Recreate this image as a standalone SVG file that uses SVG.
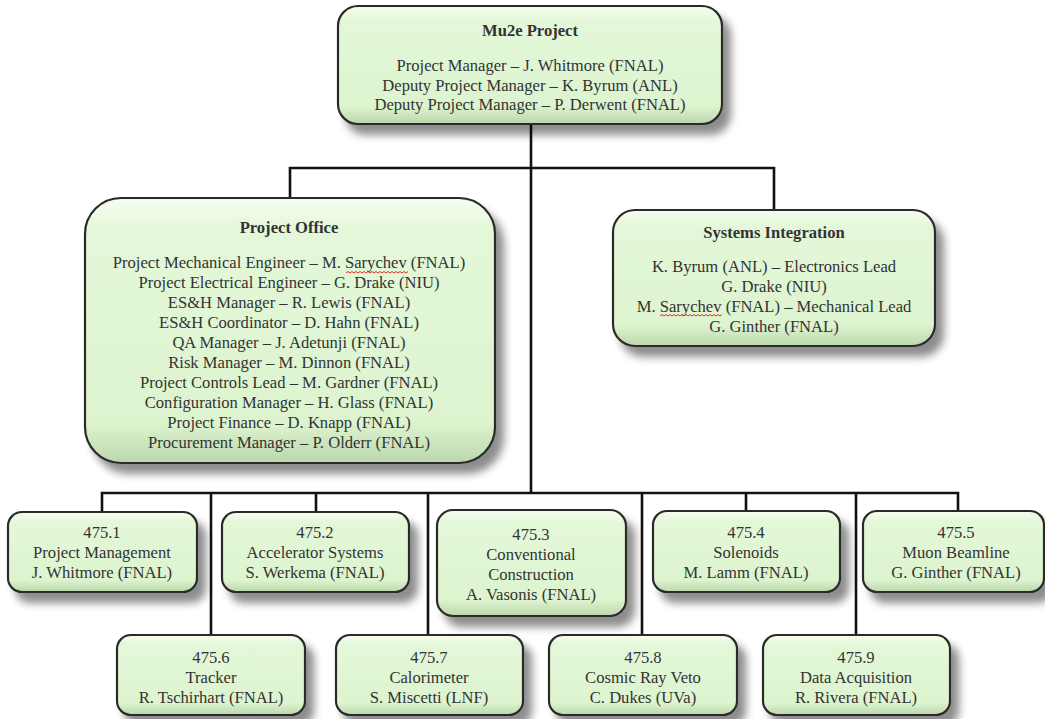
<svg xmlns="http://www.w3.org/2000/svg" width="1045" height="719" viewBox="0 0 1045 719">
  <defs>
    <linearGradient id="fillG" x1="0" y1="0" x2="0" y2="1">
      <stop offset="0" stop-color="#f6fdf0"/>
      <stop offset="0.12" stop-color="#e4f8d9"/>
      <stop offset="0.85" stop-color="#ddf4cf"/>
      <stop offset="1" stop-color="#bcd6ab"/>
    </linearGradient>
    <filter id="shadow" x="-10%" y="-10%" width="130%" height="140%">
      <feGaussianBlur in="SourceAlpha" stdDeviation="4.5"/>
      <feOffset dx="8" dy="10" result="b"/>
      <feComponentTransfer><feFuncA type="linear" slope="0.45"/></feComponentTransfer>
      <feMerge><feMergeNode/><feMergeNode in="SourceGraphic"/></feMerge>
    </filter>
  </defs>
  <style>
    .box { fill: url(#fillG); stroke: #2b2b2b; stroke-width: 2.2; filter: url(#shadow); }
    .t { font-family: "Liberation Serif", "Times New Roman", serif; font-size: 16.6px; fill: #333; text-anchor: middle; }
    .b { font-weight: bold; }
    .conn { stroke: #111; stroke-width: 2.6; fill: none; }
    .sq { stroke: #e03030; stroke-width: 1; fill: none; }
  </style>

  <g id="connectors">
    <path class="conn" d="M531 124 V493"/>
    <path class="conn" d="M290 198 V168 H774 V210"/>
    <path class="conn" d="M102 512 V493 H958 V511"/>
    <path class="conn" d="M211 493 V635"/>
    <path class="conn" d="M316 493 V512"/>
    <path class="conn" d="M428 493 V635"/>
    <path class="conn" d="M642 493 V635"/>
    <path class="conn" d="M746 493 V511"/>
    <path class="conn" d="M856 493 V635"/>
  </g>

  <g id="mu2e-project">
    <rect class="box" x="338" y="6" width="384" height="118" rx="20"/>
    <text class="t b" x="530" y="36">Mu2e Project</text>
    <text class="t" x="530" y="71">Project Manager – J. Whitmore (FNAL)</text>
    <text class="t" x="530" y="90.5">Deputy Project Manager – K. Byrum (ANL)</text>
    <text class="t" x="530" y="110">Deputy Project Manager – P. Derwent (FNAL)</text>
  </g>

  <g id="project-office">
    <rect class="box" x="85" y="198" width="410" height="265" rx="36"/>
    <text class="t b" x="289" y="233">Project Office</text>
    <text class="t" x="289" y="268">Project Mechanical Engineer – M. Sarychev (FNAL)</text>
    <path class="sq" d="M346 273 l2 -1.5 l2 1.5 l2 -1.5 l2 1.5 l2 -1.5 l2 1.5 l2 -1.5 l2 1.5 l2 -1.5 l2 1.5 l2 -1.5 l2 1.5 l2 -1.5 l2 1.5 l2 -1.5 l2 1.5 l2 -1.5 l2 1.5 l2 -1.5 l2 1.5 l2 -1.5 l2 1.5 l2 -1.5 l2 1.5 l2 -1.5 l2 1.5 l2 -1.5 l2 1.5 l2 -1.5 l2 1.5 l2 -1.5"/>
    <text class="t" x="289" y="288">Project Electrical Engineer – G. Drake (NIU)</text>
    <text class="t" x="289" y="308">ES&amp;H Manager – R. Lewis (FNAL)</text>
    <text class="t" x="289" y="328">ES&amp;H Coordinator – D. Hahn (FNAL)</text>
    <text class="t" x="289" y="348">QA Manager – J. Adetunji (FNAL)</text>
    <text class="t" x="289" y="368">Risk Manager – M. Dinnon (FNAL)</text>
    <text class="t" x="289" y="388">Project Controls Lead – M. Gardner (FNAL)</text>
    <text class="t" x="289" y="408">Configuration Manager – H. Glass (FNAL)</text>
    <text class="t" x="289" y="428">Project Finance – D. Knapp (FNAL)</text>
    <text class="t" x="289" y="448">Procurement Manager – P. Olderr (FNAL)</text>
  </g>

  <g id="systems-integration">
    <rect class="box" x="613" y="210" width="322" height="136" rx="22"/>
    <text class="t b" x="774" y="238">Systems Integration</text>
    <text class="t" x="774" y="272">K. Byrum (ANL) – Electronics Lead</text>
    <text class="t" x="774" y="292">G. Drake (NIU)</text>
    <text class="t" x="774" y="312">M. Sarychev (FNAL) – Mechanical Lead</text>
    <path class="sq" d="M660 316 l2 -1.5 l2 1.5 l2 -1.5 l2 1.5 l2 -1.5 l2 1.5 l2 -1.5 l2 1.5 l2 -1.5 l2 1.5 l2 -1.5 l2 1.5 l2 -1.5 l2 1.5 l2 -1.5 l2 1.5 l2 -1.5 l2 1.5 l2 -1.5 l2 1.5 l2 -1.5 l2 1.5 l2 -1.5 l2 1.5 l2 -1.5 l2 1.5 l2 -1.5 l2 1.5 l2 -1.5 l2 1.5 l2 -1.5"/>
    <text class="t" x="774" y="332">G. Ginther (FNAL)</text>
  </g>

  <g id="wbs-475-1">
    <rect class="box" x="8" y="512" width="189" height="80" rx="14"/>
    <text class="t" x="102" y="538">475.1</text>
    <text class="t" x="102" y="558">Project Management</text>
    <text class="t" x="102" y="578">J. Whitmore (FNAL)</text>
  </g>
  <g id="wbs-475-2">
    <rect class="box" x="222" y="512" width="187" height="80" rx="14"/>
    <text class="t" x="315" y="538">475.2</text>
    <text class="t" x="315" y="558">Accelerator Systems</text>
    <text class="t" x="315" y="578">S. Werkema (FNAL)</text>
  </g>
  <g id="wbs-475-3">
    <rect class="box" x="437" y="510" width="189" height="106" rx="16"/>
    <text class="t" x="531" y="540">475.3</text>
    <text class="t" x="531" y="560">Conventional</text>
    <text class="t" x="531" y="580">Construction</text>
    <text class="t" x="531" y="600">A. Vasonis (FNAL)</text>
  </g>
  <g id="wbs-475-4">
    <rect class="box" x="653" y="511" width="187" height="81" rx="14"/>
    <text class="t" x="746" y="538">475.4</text>
    <text class="t" x="746" y="558">Solenoids</text>
    <text class="t" x="746" y="578">M. Lamm (FNAL)</text>
  </g>
  <g id="wbs-475-5">
    <rect class="box" x="863" y="511" width="181" height="81" rx="14"/>
    <text class="t" x="956" y="538">475.5</text>
    <text class="t" x="956" y="558">Muon Beamline</text>
    <text class="t" x="956" y="578">G. Ginther (FNAL)</text>
  </g>
  <g id="wbs-475-6">
    <rect class="box" x="117" y="635" width="188" height="80" rx="14"/>
    <text class="t" x="211" y="663">475.6</text>
    <text class="t" x="211" y="683">Tracker</text>
    <text class="t" x="211" y="703">R. Tschirhart (FNAL)</text>
  </g>
  <g id="wbs-475-7">
    <rect class="box" x="336" y="635" width="187" height="80" rx="14"/>
    <text class="t" x="429" y="663">475.7</text>
    <text class="t" x="429" y="683">Calorimeter</text>
    <text class="t" x="429" y="703">S. Miscetti (LNF)</text>
  </g>
  <g id="wbs-475-8">
    <rect class="box" x="549" y="635" width="188" height="80" rx="14"/>
    <text class="t" x="643" y="663">475.8</text>
    <text class="t" x="643" y="683">Cosmic Ray Veto</text>
    <text class="t" x="643" y="703">C. Dukes (UVa)</text>
  </g>
  <g id="wbs-475-9">
    <rect class="box" x="763" y="635" width="187" height="80" rx="14"/>
    <text class="t" x="856" y="663">475.9</text>
    <text class="t" x="856" y="683">Data Acquisition</text>
    <text class="t" x="856" y="703">R. Rivera (FNAL)</text>
  </g>
</svg>
